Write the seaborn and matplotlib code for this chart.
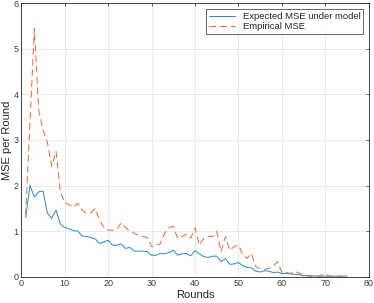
import numpy as np
import pandas as pd
import matplotlib
matplotlib.use("Agg")
import matplotlib.pyplot as plt
import seaborn as sns

rounds = list(range(1, 76))

expected_mse = [1.30, 2.00, 1.75, 1.86, 1.88, 1.39, 1.28, 1.46, 1.15, 1.08,
                1.05, 1.01, 1.00, 0.89, 0.88, 0.86, 0.83, 0.73, 0.76, 0.80,
                0.69, 0.69, 0.72, 0.62, 0.64, 0.56, 0.56, 0.56, 0.55, 0.47,
                0.47, 0.51, 0.50, 0.53, 0.58, 0.47, 0.50, 0.51, 0.46, 0.57,
                0.50, 0.44, 0.42, 0.45, 0.45, 0.33, 0.40, 0.27, 0.28, 0.31,
                0.24, 0.20, 0.19, 0.12, 0.10, 0.13, 0.12, 0.09, 0.10, 0.07,
                0.07, 0.06, 0.05, 0.04, 0.02, 0.02, 0.02, 0.01, 0.01, 0.01,
                0.01, 0.01, 0.01, 0.01, 0.01]

empirical_mse = [1.35, 3.40, 5.45, 3.65, 3.22, 2.95, 2.42, 2.75, 1.85, 1.62,
                 1.58, 1.52, 1.61, 1.46, 1.39, 1.40, 1.50, 1.24, 1.08, 1.02,
                 1.02, 1.04, 1.18, 1.08, 0.99, 0.95, 0.91, 0.88, 0.86, 0.66,
                 0.69, 0.72, 0.95, 1.08, 1.10, 0.84, 0.88, 0.93, 0.84, 1.07,
                 0.69, 0.84, 0.88, 0.88, 0.99, 0.55, 0.88, 0.58, 0.66, 0.69,
                 0.48, 0.40, 0.51, 0.22, 0.18, 0.16, 0.18, 0.23, 0.33, 0.09,
                 0.09, 0.07, 0.12, 0.07, 0.05, 0.01, 0.00, 0.00, 0.03, 0.06,
                 0.01, 0.00, 0.01, 0.00, 0.01]

df = pd.DataFrame({"Rounds": rounds,
                   "Expected MSE under model": expected_mse,
                   "Empirical MSE": empirical_mse})

sns.set_style("whitegrid")
plt.rcParams["font.family"] = ["Liberation Sans", "DejaVu Sans"]

fig = plt.figure(figsize=(3.74, 3.03), dpi=100)
ax = fig.add_axes([0.057, 0.087, 0.929, 0.902])

sns.lineplot(data=df, x="Rounds", y="Expected MSE under model", color="#2a86cc",
             lw=0.7, ax=ax, label="Expected MSE under model")
sns.lineplot(data=df, x="Rounds", y="Empirical MSE", color="#e26a3a",
             lw=0.7, ax=ax, label="Empirical MSE", dashes=False)
ax.lines[1].set_dashes([7, 4])

ax.set_xlim(0, 80)
ax.set_ylim(0, 6)
ax.set_xticks(range(0, 81, 10))
ax.set_yticks(range(0, 7))
ax.set_xlabel("Rounds", fontsize=8, labelpad=1)
ax.set_ylabel("MSE per Round", fontsize=8, labelpad=1)
ax.tick_params(labelsize=6.5, direction="in", length=2.5, pad=2,
               top=True, right=True, colors="#262626", labelcolor="#404040", width=0.5)
ax.grid(True, color="#e6e6e6", lw=0.6)
for s in ax.spines.values():
    s.set_color("#262626")
    s.set_linewidth(0.6)
    s.set_visible(True)

leg = ax.legend(loc="upper right", fontsize=6.8, frameon=True, fancybox=False,
                edgecolor="#262626", borderpad=0.3, handlelength=2.8,
                labelspacing=0.15, borderaxespad=0.6)
leg.get_frame().set_linewidth(0.6)
leg.legend_handles[1].set_dashes([7, 4])

fig.savefig("out.png", dpi=100)
